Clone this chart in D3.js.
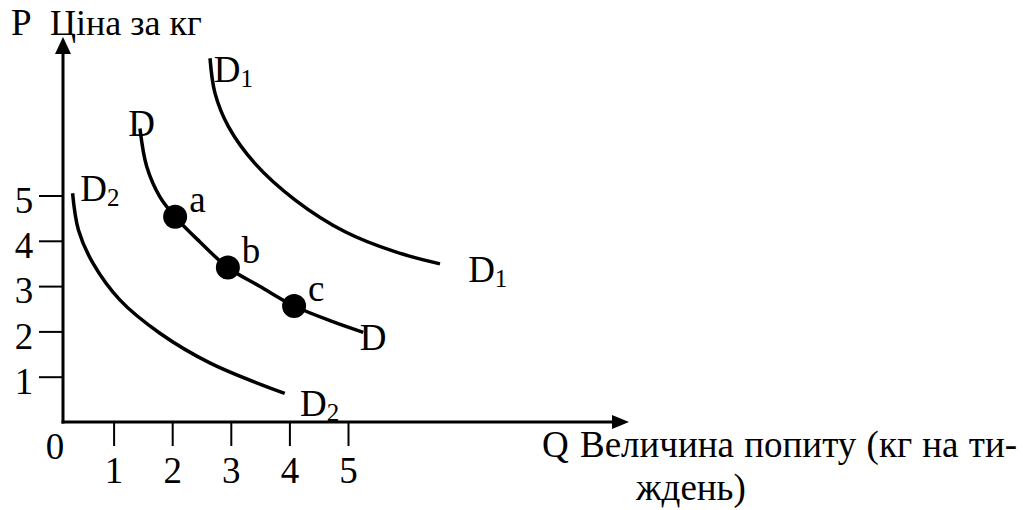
<!DOCTYPE html>
<html><head><meta charset="utf-8">
<script src="https://cdn.jsdelivr.net/npm/d3@7"></script>
<style>
html,body{margin:0;padding:0;background:#fff;}
svg{display:block;}
text{font-family:"Liberation Serif","Times New Roman",serif;fill:#000;}
</style></head>
<body>
<svg id="chart" width="1023" height="510"></svg>
<script>
// ---- data (quantity Q, price P) ----
const xTicks = [1, 2, 3, 4, 5];
const yTicks = [1, 2, 3, 4, 5];
const curveD = [[1.45,6.48],[1.565,5.64],[1.79,4.97],[2.05,4.53],[2.47,3.98],[2.95,3.41],[3.50,2.99],[4.08,2.56],[4.75,2.21],[5.26,1.98]];
const curveD1 = [[2.645,8.03],[2.73,7.26],[2.96,6.52],[3.41,5.71],[4.10,4.90],[4.95,4.20],[5.80,3.76],[6.57,3.49]];
const curveD2 = [[0.30,5.05],[0.40,4.24],[0.65,3.50],[1.11,2.69],[1.79,1.96],[2.65,1.30],[3.92,0.63]];
const pointNames = ["a", "b", "c"];
const pointQ = [2.05, 2.95, 4.08];
const pointP = [4.53, 3.41, 2.56];
const curveLabels = [
  {t:"D", s:"", q:1.25, p:6.31},
  {t:"D", s:"1", q:2.71, p:7.51},
  {t:"D", s:"2", q:0.43, p:4.87},
  {t:"D", s:"", q:5.20, p:1.59},
  {t:"D", s:"2", q:4.18, p:0.13},
  {t:"D", s:"1", q:7.05, p:3.09}
];
const yTitle = ["P", "Ціна за кг"];
const xTitle = ["Q", "Величина попиту (кг на ти-", "ждень)"];

const svg = d3.select("#chart");
const x = d3.scaleLinear().domain([0, 5]).range([55, 348]);
const y = d3.scaleLinear().domain([0, 5]).range([422, 195.5]);
const x0 = 63, y0 = 422;
const FS = 37;
const FONT = '"Liberation Serif","Times New Roman",serif';

// axes lines
svg.append("line").attr("x1", x0).attr("y1", y0 + 1.5).attr("x2", x0).attr("y2", 50)
  .attr("stroke", "#000").attr("stroke-width", 3);
svg.append("line").attr("x1", x0 - 1.5).attr("y1", y0).attr("x2", 615).attr("y2", y0)
  .attr("stroke", "#000").attr("stroke-width", 3);
svg.append("path").attr("d", `M${x0},37 L${x0-8},54 L${x0+8},54 Z`).attr("fill", "#000");
svg.append("path").attr("d", `M629,${y0} L612,${y0-7} L612,${y0+7} Z`).attr("fill", "#000");

// ticks via d3 axes
const gy = svg.append("g").attr("transform", `translate(${x0},0)`)
  .call(d3.axisLeft(y).tickValues(yTicks).tickFormat(d3.format("d")).tickSize(24).tickSizeOuter(0));
const gx = svg.append("g").attr("transform", `translate(0,${y0})`)
  .call(d3.axisBottom(x).tickValues(xTicks).tickFormat(d3.format("d")).tickSize(24).tickSizeOuter(0));
[gy, gx].forEach(g => {
  g.select(".domain").remove();
  g.selectAll(".tick line").attr("stroke", "#000").attr("stroke-width", 2);
  g.selectAll(".tick text").attr("fill", "#000")
    .style("font-family", FONT).style("font-size", FS + "px");
});
gy.selectAll(".tick text").attr("dy", "0.45em").attr("x", -39).attr("text-anchor", "middle");
gx.selectAll(".tick text").attr("y", 61).attr("dy", 0);
svg.append("text").attr("x", x(0)).attr("y", 459).attr("text-anchor", "middle")
  .style("font-size", FS + "px").text("0");

// curves
const line = d3.line().x(d => x(d[0])).y(d => y(d[1])).curve(d3.curveCatmullRom.alpha(0.5));
[curveD, curveD1, curveD2].forEach(c => {
  svg.append("path").attr("d", line(c)).attr("fill", "none").attr("stroke", "#000")
    .attr("stroke-width", 3.5);
});

// points
svg.selectAll("circle.pt").data(pointNames).enter().append("circle").attr("class", "pt")
  .attr("cx", (d, i) => x(pointQ[i])).attr("cy", (d, i) => y(pointP[i])).attr("r", 12).attr("fill", "#000");
svg.selectAll("text.pl").data(pointNames).enter().append("text").attr("class", "pl")
  .attr("x", (d, i) => x(pointQ[i]) + 14).attr("y", (d, i) => y(pointP[i]) - 5)
  .style("font-size", FS + "px").text(d => d);

// curve labels
curveLabels.forEach(l => {
  const t = svg.append("text").attr("x", x(l.q)).attr("y", y(l.p)).style("font-size", FS + "px");
  t.append("tspan").text(l.t);
  if (l.s) t.append("tspan").attr("dy", 5).style("font-size", "25px").text(l.s);
});

// axis titles
svg.append("text").attr("x", 11).attr("y", 35).style("font-size", FS + "px").text(yTitle[0]);
svg.append("text").attr("x", 50).attr("y", 35).style("font-size", (FS - 1) + "px").text(yTitle[1]);
svg.append("text").attr("x", 542).attr("y", 457).style("font-size", FS + "px").text(xTitle[0]);
svg.append("text").attr("x", 580).attr("y", 457).style("font-size", FS + "px")
  .style("word-spacing", "1px").text(xTitle[1]);
svg.append("text").attr("x", 636).attr("y", 500).style("font-size", FS + "px").text(xTitle[2]);
</script>
</body></html>
